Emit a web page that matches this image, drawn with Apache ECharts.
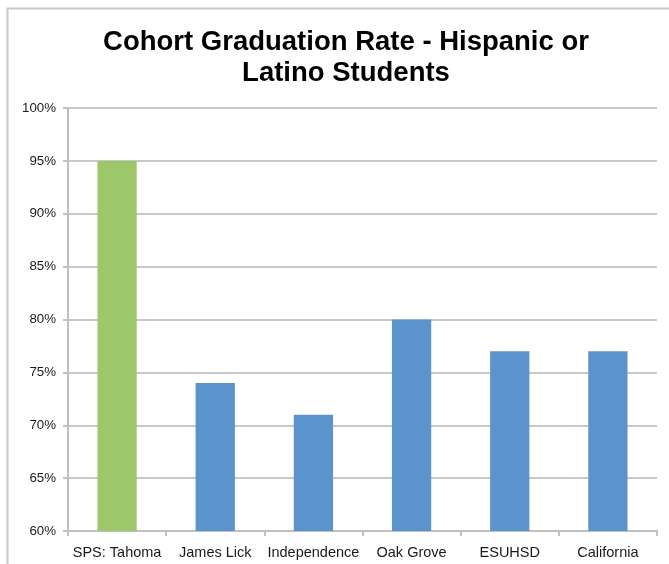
<!DOCTYPE html>
<html>
<head>
<meta charset="utf-8">
<script src="https://cdn.jsdelivr.net/npm/echarts@6/dist/echarts.min.js"></script>
<style>html,body{margin:0;padding:0;background:#fff}#c{width:669px;height:564px}</style>
</head>
<body>
<div id="c"></div>
<script>
const categories = ['SPS: Tahoma', 'James Lick', 'Independence', 'Oak Grove', 'ESUHSD', 'California'];
const rates = [95, 74, 71, 80, 77, 77];
const barColors = ['#9dc86a', '#5b93cd', '#5b93cd', '#5b93cd', '#5b93cd', '#5b93cd'];
const titleText = 'Cohort Graduation Rate - Hispanic or\nLatino Students';

const chart = echarts.init(document.getElementById('c'));
chart.setOption({
  animation: false,
  backgroundColor: '#fff',
  graphic: [{
    type: 'rect', left: 5, top: 6, silent: true, z: -1,
    shape: { width: 700, height: 620 },
    style: { fill: 'none', stroke: '#c8c8c8', lineWidth: 2 }
  }],
  title: {
    text: titleText,
    left: 341, top: 22, textAlign: 'center',
    textStyle: { fontFamily: 'Liberation Sans, Arial, sans-serif', fontWeight: 'bold', fontSize: 27.5, lineHeight: 31, color: '#000' }
  },
  grid: { left: 68, right: 12, top: 108, bottom: 33, containLabel: false },
  xAxis: {
    type: 'category', data: categories, boundaryGap: true,
    axisLine: { lineStyle: { color: '#c0c0c0', width: 2 } },
    axisTick: { show: true, length: 5, alignWithLabel: false, lineStyle: { color: '#c0c0c0', width: 2 } },
    axisLabel: { margin: 14, fontFamily: 'Liberation Sans, Arial, sans-serif', fontSize: 14.5, color: '#1a1a1a', interval: 0 }
  },
  yAxis: {
    type: 'value', min: 60, max: 100, interval: 5,
    axisLine: { show: true, lineStyle: { color: '#c0c0c0', width: 2 } },
    axisTick: { show: true, length: 5, lineStyle: { color: '#c0c0c0', width: 2 } },
    splitLine: { lineStyle: { color: '#c8c8c8', width: 2 } },
    axisLabel: { margin: 12, formatter: '{value}%', fontFamily: 'Liberation Sans, Arial, sans-serif', fontSize: 13.3, color: '#1a1a1a' }
  },
  series: [{
    type: 'bar',
    data: rates.map((v, i) => ({ value: v, itemStyle: { color: barColors[i] } })),
    barWidth: '40%'
  }]
});
</script>
</body>
</html>
